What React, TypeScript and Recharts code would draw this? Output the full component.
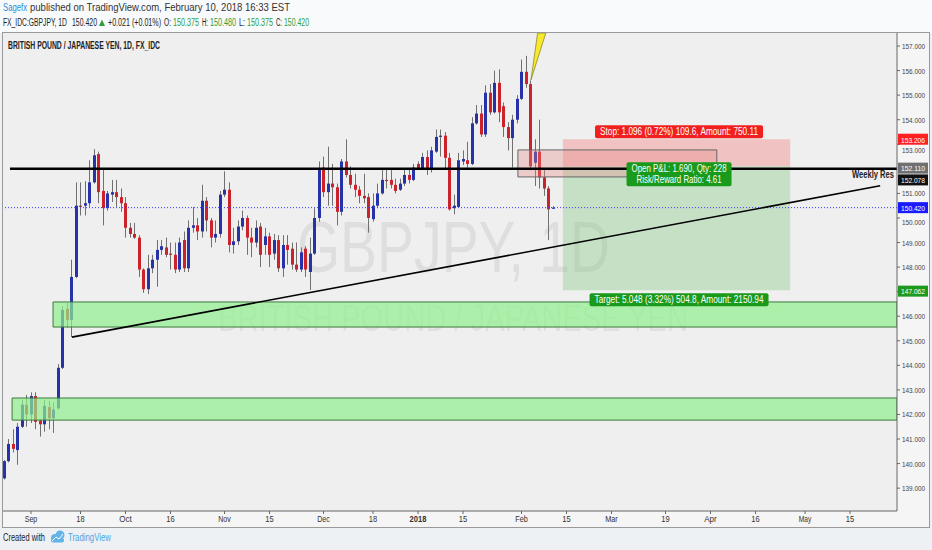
import React from 'react';
import { ComposedChart, Bar, XAxis, YAxis, ReferenceLine, ReferenceArea } from 'recharts';

const FONT = "'Liberation Sans', Arial, sans-serif";

// bar numbers are weekdays counted from Fri 1 Sep 2017 (= 0)
const FIRST_BAR = -6;

const OPEN = [
  139.40, 140.10, 140.80, 140.55, 141.50, 142.40, 142.00, 142.75, 141.75, 141.60,
  142.30, 141.85, 142.25, 143.90, 146.30, 145.85, 147.60, 150.50, 150.50, 150.60,
  151.45, 152.60, 151.10, 150.40, 150.95, 151.05, 150.85, 150.60, 149.60, 149.35,
  149.20, 147.90, 147.10, 147.95, 148.30, 148.70, 148.80, 148.55, 148.50, 147.90,
  149.10, 147.95, 149.60, 149.70, 149.45, 150.70, 149.90, 149.20, 149.35, 150.95,
  151.15, 148.90, 149.05, 149.65, 150.00, 149.20, 149.00, 149.65, 148.90, 149.25,
  148.55, 149.10, 147.95, 148.90, 148.75, 148.10, 147.90, 148.75, 147.80, 148.55,
  150.00, 152.05, 151.05, 151.40, 151.25, 150.25, 152.30, 151.75, 151.35, 151.15,
  150.90, 150.85, 149.95, 150.50, 151.00, 151.55, 151.55, 151.35, 151.15, 151.40,
  151.75, 151.55, 152.20, 152.03, 152.48, 152.00, 152.70, 153.30, 153.35, 152.45,
  150.40, 150.45, 152.30, 152.35, 152.20, 153.85, 154.25, 153.40, 155.10, 154.30,
  155.50, 154.55, 153.70, 153.25, 154.00, 154.85, 155.95, 155.45, 152.25, 152.70,
  151.65, 151.20, 150.375,
];

const HIGH = [
  140.15, 141.00, 141.40, 141.65, 142.60, 142.80, 142.90, 142.90, 141.80, 142.60,
  142.55, 142.50, 144.05, 146.40, 146.55, 148.30, 151.45, 151.45, 151.50, 152.35,
  152.80, 152.70, 151.95, 151.10, 151.55, 151.55, 151.20, 150.85, 149.80, 149.80,
  149.30, 147.95, 148.50, 148.50, 149.10, 149.10, 149.20, 149.00, 149.00, 149.20,
  149.45, 149.90, 150.45, 150.00, 151.35, 150.85, 150.00, 149.90, 151.10, 151.90,
  151.45, 149.60, 149.90, 150.30, 150.10, 149.60, 149.90, 149.80, 149.60, 149.40,
  149.35, 149.30, 149.30, 149.30, 149.00, 149.00, 148.80, 148.85, 149.20, 150.40,
  152.30, 152.50, 152.90, 152.20, 151.40, 152.40, 153.20, 152.10, 151.80, 151.30,
  151.80, 151.00, 151.00, 151.40, 151.95, 151.95, 151.95, 151.60, 151.60, 152.00,
  152.00, 152.20, 152.30, 152.65, 152.75, 152.90, 153.60, 153.60, 153.50, 152.65,
  150.95, 152.65, 152.75, 153.10, 154.10, 154.60, 154.60, 155.40, 155.45, 156.00,
  156.05, 154.70, 153.90, 154.20, 155.00, 156.45, 156.60, 155.60, 153.20, 154.00,
  151.95, 151.30, 150.48,
];

const LOW = [
  139.35, 140.05, 140.45, 139.95, 141.45, 141.50, 141.65, 141.40, 141.10, 141.30,
  141.40, 141.25, 142.20, 143.85, 145.55, 145.15, 147.55, 150.10, 150.10, 150.45,
  151.40, 150.60, 149.70, 150.30, 150.65, 150.45, 150.25, 149.20, 149.20, 149.15,
  147.60, 146.95, 146.90, 147.75, 147.20, 148.50, 148.40, 147.90, 147.75, 147.80,
  147.80, 147.80, 149.40, 149.10, 149.20, 149.45, 148.80, 149.00, 149.20, 150.85,
  148.60, 148.55, 148.90, 149.50, 148.50, 148.40, 148.80, 148.00, 148.50, 148.00,
  148.30, 147.80, 147.60, 148.10, 147.90, 147.80, 147.80, 147.60, 147.07, 148.50,
  149.85, 150.85, 150.50, 150.50, 149.70, 150.10, 151.65, 151.20, 150.85, 150.60,
  150.60, 149.40, 149.85, 150.40, 150.95, 151.20, 151.20, 151.00, 151.10, 151.30,
  151.40, 151.50, 151.95, 151.95, 151.75, 151.85, 152.65, 152.50, 151.95, 150.30,
  150.15, 150.40, 152.15, 152.05, 152.15, 153.80, 153.30, 153.30, 154.20, 154.25,
  153.90, 153.30, 152.75, 152.05, 153.85, 154.80, 155.30, 151.95, 151.30, 151.20,
  150.90, 149.10, 150.375,
];

const CLOSE = [
  140.10, 140.80, 140.60, 141.50, 142.40, 142.00, 142.75, 141.70, 141.60, 142.35,
  141.85, 142.20, 143.90, 146.25, 145.85, 147.60, 150.50, 150.45, 150.60, 151.45,
  152.55, 151.05, 150.40, 151.00, 151.05, 150.85, 150.60, 149.60, 149.35, 149.20,
  147.90, 147.10, 147.95, 148.30, 148.70, 148.85, 148.50, 148.50, 147.90, 149.00,
  147.95, 149.60, 149.70, 149.45, 150.70, 149.90, 149.20, 149.35, 150.95, 151.15,
  148.90, 149.05, 149.65, 150.00, 149.20, 149.00, 149.60, 148.50, 149.25, 148.50,
  149.10, 147.95, 148.90, 148.70, 148.10, 147.90, 148.60, 147.90, 148.55, 150.00,
  152.00, 151.05, 151.40, 151.25, 150.25, 152.30, 151.75, 151.35, 151.15, 150.90,
  150.80, 150.00, 150.50, 151.00, 151.55, 151.50, 151.35, 151.10, 151.40, 151.75,
  151.55, 152.05, 152.03, 152.48, 152.00, 152.75, 153.30, 153.35, 152.45, 150.35,
  150.50, 152.35, 152.40, 152.20, 153.85, 154.25, 153.40, 155.10, 154.30, 155.50,
  154.30, 153.70, 153.25, 154.00, 154.85, 155.95, 155.45, 152.10, 152.70, 151.65,
  151.20, 150.35, 150.42,
];

const TIME_TICKS = [0, 11, 21, 31, 43, 53, 65, 76, 86, 96, 109, 119, 129, 141, 151, 161, 172, 182];
const TIME_LABELS = ['Sep', '18', 'Oct', '16', 'Nov', '15', 'Dec', '18', '2018', '15', 'Feb', '15', 'Mar', '19', 'Apr', '16', 'May', '15'];
const PRICE_TICKS = [139, 140, 141, 142, 143, 144, 145, 146, 147, 148, 149, 150, 151, 153, 154, 155, 156, 157];
// axis labels that sit under a price tag: hidden or nudged down as in the source
const TICK_HIDDEN = [147];
const TICK_NUDGE: Record<number, number> = { 150: 4, 153: 6 };

const X_DOMAIN: [number, number] = [-6.22, 192.44];
const Y_DOMAIN: [number, number] = [138.07, 157.53];

// drawings, in bar / price units
const ZONES = [
  { from: 4.9, lo: 145.56, hi: 146.58 },
  { from: -4.2, lo: 141.77, hi: 142.67 },
];
const RESISTANCE = 152.0;
const TREND = [{ x: 9.1, y: 145.15 }, { x: 188.7, y: 151.31 }];
const ENTRY = 152.11;
const STOP = 153.206;
const TARGET = 147.062;
const POS_FROM = 118.2;
const POS_TO = 168.7;
const LAST_PRICE = 150.42;
const RES_LABEL = 152.078;
const BOX = { x1: 108.2, x2: 152.4, lo: 151.67, hi: 152.77 };
const ARROW = { x1: 111.1, x2: 114.4, lo: 155.62, hi: 157.53 };

const UP = '#2532a8';
const DOWN = '#cc2229';
const WICK = '#707070';
const GREEN_TXT = '#2e9e3a';

const candles = OPEN.map((o, k) => ({
  bar: FIRST_BAR + k,
  o,
  h: HIGH[k],
  l: LOW[k],
  c: CLOSE[k],
  range: [LOW[k], HIGH[k]],
}));

function Candle(props: any) {
  const { x, y, width, height, payload } = props;
  if (x == null || y == null) return null;
  const top = Math.min(y, y + height);
  const total = Math.abs(height);
  const span = payload.h - payload.l || 1e-6;
  const k = total / span;
  const bTop = top + (payload.h - Math.max(payload.o, payload.c)) * k;
  const bBot = top + (payload.h - Math.min(payload.o, payload.c)) * k;
  const cx = Math.floor(x + width / 2) + 0.5;
  const up = payload.c >= payload.o;
  return (
    <g>
      <line x1={cx} x2={cx} y1={top} y2={top + total} stroke={WICK} strokeWidth={1} />
      <rect x={cx - 1.5} y={bTop} width={3} height={Math.max(1, bBot - bTop)} fill={up ? UP : DOWN} />
    </g>
  );
}

function TimeTick(props: any) {
  const { x, y, payload } = props;
  const label = TIME_LABELS[TIME_TICKS.indexOf(payload.value)] ?? '';
  return (
    <text x={x} y={y + 6} textAnchor="middle" fontSize={9} fill="#333" fontFamily={FONT}
      fontWeight={label === '2018' ? 'bold' : 'normal'}
      textLength={label.length * 4.2} lengthAdjust="spacingAndGlyphs">{label}</text>
  );
}

function PriceTick(props: any) {
  const { x, y, payload } = props;
  if (TICK_HIDDEN.includes(payload.value)) return null;
  const dy = TICK_NUDGE[payload.value] ?? 0;
  return (
    <text x={x} y={y + 3 + dy} textAnchor="start" fontSize={8} fill="#444" fontFamily={FONT}
      textLength={23} lengthAdjust="spacingAndGlyphs">{payload.value.toFixed(3)}</text>
  );
}

function PriceTag({ viewBox, text, bg, shift = 0 }: any) {
  if (!viewBox) return null;
  const x = viewBox.x + viewBox.width + 1;
  const y = viewBox.y + shift;
  return (
    <g>
      <rect x={x} y={y - 5.5} width={30} height={11} fill={bg} />
      <text x={x + 15} y={y + 3.3} textAnchor="middle" fontSize={8} fill="#fff" fontFamily={FONT}
        textLength={24} lengthAdjust="spacingAndGlyphs">{text}</text>
    </g>
  );
}

function BoxTag({ viewBox, lines, widths, bg, where }: any) {
  if (!viewBox) return null;
  const { x, y, width, height } = viewBox;
  const cx = x + width / 2 + 2.5;
  const boxW = Math.max(...widths) + 10;
  const boxH = lines.length * 11 + 2;
  const top = where === 'above' ? y - boxH - 1 : where === 'below' ? y + height + 3 : y - 4;
  return (
    <g>
      <rect x={cx - boxW / 2} y={top} width={boxW} height={boxH} rx={2} fill={bg} />
      {lines.map((t: string, i: number) => (
        <text key={i} x={cx} y={top + 10 + i * 11} textAnchor="middle" fontSize={10} fill="#fff"
          fontFamily={FONT} textLength={widths[i]} lengthAdjust="spacingAndGlyphs">{t}</text>
      ))}
    </g>
  );
}

function ResLabel({ viewBox }: any) {
  if (!viewBox) return null;
  return (
    <text x={viewBox.x + viewBox.width - 3} y={viewBox.y + 9.5} textAnchor="end" fontSize={10}
      fontWeight="bold" fill="#222" fontFamily={FONT} textLength={42} lengthAdjust="spacingAndGlyphs">
      Weekly Res
    </text>
  );
}

function Wedge(props: any) {
  const { x, y, width, height } = props;
  return (
    <polygon points={`${x},${y + height} ${x + width * 0.45},${y} ${x + width},${y}`}
      fill="#f6e92e" stroke="#8d8a28" strokeWidth={0.8} />
  );
}

function T({ x, y, w, size = 10, fill = '#333', weight = 'normal', children }: any) {
  return (
    <text x={x} y={y} fontSize={size} fill={fill} fontWeight={weight} fontFamily={FONT}
      textLength={w} lengthAdjust="spacingAndGlyphs">{children}</text>
  );
}

export default function App() {
  return (
    <div style={{ position: 'absolute', left: 0, top: 0, width: 932, height: 550, background: '#eef1f4', overflow: 'hidden' }}>
      <div style={{ position: 'absolute', left: 0, top: 0, width: 932, height: 33, background: '#f9fafb' }} />
      <svg width={932} height={33} style={{ position: 'absolute', left: 0, top: 0 }}>
        <T x={3} y={11} w={24} size={11} fill="#2e8ad8">Sagefx</T>
        <T x={30} y={11} w={260} size={11} fill="#333">published on TradingView.com, February 10, 2018 16:33 EST</T>
        <T x={3} y={26} w={64} fill="#222">FX_IDC:GBPJPY, 1D</T>
        <T x={72} y={26} w={25} fill="#222">150.420</T>
        <polygon points="99,26 105,26 102,19.5" fill="#2e9e3a" />
        <T x={108} y={26} w={53} fill="#222">+0.021 (+0.01%)</T>
        <T x={164} y={26} w={7} fill="#222">O:</T>
        <T x={173} y={26} w={26} fill={GREEN_TXT}>150.375</T>
        <T x={202} y={26} w={6} fill="#222">H:</T>
        <T x={210} y={26} w={26} fill={GREEN_TXT}>150.480</T>
        <T x={239} y={26} w={6} fill="#222">L:</T>
        <T x={247} y={26} w={26} fill={GREEN_TXT}>150.375</T>
        <T x={276} y={26} w={6} fill="#222">C:</T>
        <T x={284} y={26} w={25} fill={GREEN_TXT}>150.420</T>
      </svg>

      <div style={{ position: 'absolute', left: 3, top: 33, width: 926, height: 494, background: '#efefef' }}>
        <div style={{ position: 'absolute', left: 894, top: 0, width: 32, height: 494, background: '#f5f5f5' }} />
        <div style={{ position: 'absolute', left: 0, top: 478, width: 926, height: 16, background: '#f5f5f5' }} />
        <svg width={926} height={494} style={{ position: 'absolute', left: 0, top: 0 }}>
          <text x={294} y={239} fontSize={72} fill="#000" fillOpacity={0.07} fontFamily={FONT}
            textLength={313} lengthAdjust="spacingAndGlyphs">GBPJPY, 1D</text>
          <text x={215} y={298} fontSize={36} fill="#000" fillOpacity={0.07} fontFamily={FONT}
            textLength={470} lengthAdjust="spacingAndGlyphs">BRITISH POUND / JAPANESE YEN</text>
        </svg>
        <div style={{ position: 'absolute', left: 0, top: 0 }}>
          <ComposedChart width={926} height={494} data={candles} margin={{ top: 0, right: 0, bottom: 0, left: 0 }}
            style={{ fontFamily: FONT }}>
            <XAxis dataKey="bar" type="number" domain={X_DOMAIN} allowDataOverflow ticks={TIME_TICKS}
              interval={0} height={16} tickSize={3} tick={<TimeTick />}
              axisLine={{ stroke: '#666' }} tickLine={{ stroke: '#666' }} />
            <YAxis orientation="right" type="number" domain={Y_DOMAIN} allowDataOverflow ticks={PRICE_TICKS}
              interval={0} width={32} tickSize={3} tick={<PriceTick />}
              axisLine={{ stroke: '#666' }} tickLine={{ stroke: '#666' }} />

            <Bar dataKey="range" barSize={3} shape={<Candle />} isAnimationActive={false} />

            {ZONES.map((z, i) => (
              <ReferenceArea key={i} x1={z.from} x2={X_DOMAIN[1]} y1={z.lo} y2={z.hi} ifOverflow="hidden"
                fill="#8ef08e" fillOpacity={0.7} stroke="#3b7a3b" strokeWidth={1} zIndex={350} />
            ))}

            <ReferenceArea x1={POS_FROM} x2={POS_TO} y1={ENTRY} y2={STOP} ifOverflow="hidden"
              fill="#f28b8b" fillOpacity={0.45} stroke="none" zIndex={350}
              label={(p: any) => (
                <BoxTag viewBox={p.viewBox} bg="#f21f1f" where="above"
                  lines={['Stop: 1.096 (0.72%) 109.6, Amount: 750.11']} widths={[158]} />
              )} />
            <ReferenceArea x1={POS_FROM} x2={POS_TO} y1={TARGET} y2={ENTRY} ifOverflow="hidden"
              fill="#7cc67c" fillOpacity={0.35} stroke="none" zIndex={350}
              label={(p: any) => (
                <BoxTag viewBox={p.viewBox} bg="#1a9a1a" where="below"
                  lines={['Target: 5.048 (3.32%) 504.8, Amount: 2150.94']} widths={[169]} />
              )} />
            <ReferenceArea x1={BOX.x1} x2={BOX.x2} y1={BOX.lo} y2={BOX.hi} ifOverflow="hidden"
              fill="#e88a8a" fillOpacity={0.35} stroke="#666" strokeWidth={1} zIndex={360} />

            <ReferenceArea x1={ARROW.x1} x2={ARROW.x2} y1={ARROW.lo} y2={ARROW.hi} ifOverflow="hidden"
              shape={<Wedge />} zIndex={370} />

            <ReferenceLine y={LAST_PRICE} stroke="#3a3aff" strokeDasharray="1 2" strokeWidth={1} zIndex={380} />
            <ReferenceLine segment={[{ x: -4.67, y: RESISTANCE }, { x: X_DOMAIN[1], y: RESISTANCE }]}
              stroke="#000" strokeWidth={2.5} zIndex={390} label={(p: any) => <ResLabel viewBox={p.viewBox} />} />
            <ReferenceLine segment={TREND} stroke="#000" strokeWidth={1.6} zIndex={390} />

            <ReferenceArea x1={POS_FROM} x2={POS_TO} y1={TARGET} y2={ENTRY} ifOverflow="hidden"
              fill="none" stroke="none" zIndex={1500}
              label={(p: any) => (
                <BoxTag viewBox={p.viewBox} bg="#1a9a1a" where="top"
                  lines={['Open P&L: 1.690, Qty: 228', 'Risk/Reward Ratio: 4.61']} widths={[95, 85]} />
              )} />

            <ReferenceLine y={LAST_PRICE} stroke="none" zIndex={1600}
              label={(p: any) => <PriceTag viewBox={p.viewBox} text="150.420" bg="#1a1aff" />} />
            <ReferenceLine y={STOP} stroke="none" zIndex={1600}
              label={(p: any) => <PriceTag viewBox={p.viewBox} text="153.206" bg="#ff2020" />} />
            <ReferenceLine y={ENTRY} stroke="none" zIndex={1600}
              label={(p: any) => <PriceTag viewBox={p.viewBox} text="152.110" bg="#707070" shift={2} />} />
            <ReferenceLine y={RES_LABEL} stroke="none" zIndex={1600}
              label={(p: any) => <PriceTag viewBox={p.viewBox} text="152.078" bg="#111" shift={13} />} />
            <ReferenceLine y={TARGET} stroke="none" zIndex={1600}
              label={(p: any) => <PriceTag viewBox={p.viewBox} text="147.062" bg="#1d9a1d" shift={1} />} />
          </ComposedChart>
        </div>
      </div>
      <div style={{ position: 'absolute', left: 2, top: 32, width: 928, height: 496, border: '1px solid #9a9a9a', boxSizing: 'border-box', pointerEvents: 'none' }} />

      <svg width={932} height={550} style={{ position: 'absolute', left: 0, top: 0, pointerEvents: 'none' }}>
        <T x={8} y={49} w={152} size={10} weight="bold" fill="#222">BRITISH POUND / JAPANESE YEN, 1D, FX_IDC</T>
        <T x={3} y={541} w={42} size={10} fill="#222">Created with</T>
        <g fill="#62b4e8">
          <circle cx={55} cy={538} r={4} />
          <circle cx={60} cy={535} r={4.5} />
          <rect x={51} y={538} width={13} height={4.5} rx={2} />
        </g>
        <polyline points="52,541 56,537 59,539 63,534" fill="none" stroke="#fff" strokeWidth={1} />
        <T x={68} y={541} w={43} size={10} fill="#46a6e6">TradingView</T>
      </svg>
    </div>
  );
}
